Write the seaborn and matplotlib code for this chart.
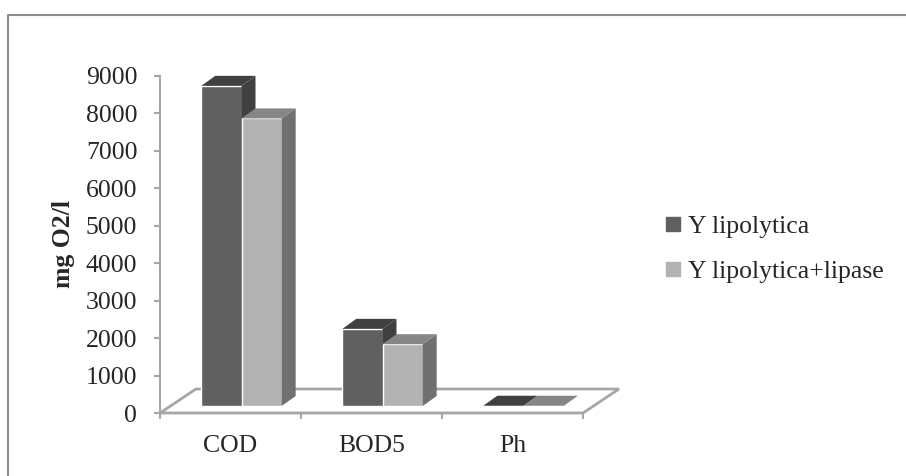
import pandas as pd
import seaborn as sns
import matplotlib.pyplot as plt
from matplotlib.patches import Polygon
from matplotlib.lines import Line2D

categories = ["COD", "BOD5", "Ph"]
series_names = ["Y lipolytica", "Y lipolytica+lipase"]
y_lipolytica = [8550, 2060, 7]
y_lipolytica_lipase = [7680, 1650, 7]
y_ticks = [0, 1000, 2000, 3000, 4000, 5000, 6000, 7000, 8000, 9000]

df = pd.DataFrame({
    "param": categories * 2,
    "value": y_lipolytica + y_lipolytica_lipase,
    "strain": [series_names[0]] * 3 + [series_names[1]] * 3,
})

front = ["#606060", "#b2b2b2"]
top = ["#404040", "#868686"]
side = ["#404040", "#707070"]
gray = "#a6a6a6"

sns.set_style("white")
plt.rcParams["font.family"] = ["Liberation Serif", "DejaVu Serif"]

fig = plt.figure(figsize=(9.06, 4.76), dpi=100)
ax = fig.add_axes([160 / 906, 1 - 413 / 476, 423 / 906, 337 / 476])

sns.barplot(data=df, x="param", y="value", hue="strain", palette=front,
            width=0.57, saturation=1, legend=False, ax=ax)
ax.set_xlim(-0.5, 2.5)
ax.set_ylim(0, 9000)

# pixel -> data conversion for the pseudo 3D depth
p0 = ax.transData.transform((0, 0))
p1 = ax.transData.transform((1, 1000))
px_x = 1 / (p1[0] - p0[0])
px_y = 1000 / (p1[1] - p0[1])

# floor
fdx, fdy = 36 * px_x, 24 * px_y
floor = Polygon([(-0.5, 0), (2.5, 0), (2.5 + fdx, fdy), (-0.5 + fdx, fdy)],
                closed=True, facecolor="white", edgecolor=gray, lw=2,
                zorder=1, clip_on=False)
ax.add_patch(floor)

# bars: shift back into the floor, add side and top faces
sx, sy = 11 * px_x, 7 * px_y
bdx, bdy = 14 * px_x, 10 * px_y
n = len(categories)
for i, bar in enumerate(ax.patches[:2 * n]):
    h = i // n
    x0, w, y1 = bar.get_x(), bar.get_width(), bar.get_height()
    x0 += sx
    bar.set_x(x0)
    bar.set_y(sy)
    bar.set_zorder(3 + h)
    bar.set_clip_on(False)
    x1 = x0 + w
    yt = sy + y1
    ax.add_patch(Polygon([(x1, sy), (x1 + bdx, sy + bdy), (x1 + bdx, yt + bdy), (x1, yt)],
                         closed=True, facecolor=side[h], lw=0, zorder=3.1 + h, clip_on=False))
    ax.add_patch(Polygon([(x0, yt), (x1, yt), (x1 + bdx, yt + bdy), (x0 + bdx, yt + bdy)],
                         closed=True, facecolor=top[h], lw=0, zorder=3.2 + h, clip_on=False))

# axes styling
sns.despine(ax=ax, top=True, right=True)
for s in ["left", "bottom"]:
    ax.spines[s].set_color(gray)
    ax.spines[s].set_linewidth(1.5)
ax.spines["bottom"].set_zorder(1.5)
ax.set_yticks(y_ticks)
ax.set_yticklabels([str(t) for t in y_ticks])
ax.tick_params(axis="y", direction="out", length=4.3, width=1.5, color=gray,
               left=True, pad=12, labelsize=18.5)
ax.set_xticks(range(n))
ax.set_xticklabels(categories)
ax.set_xticks([-0.5, 0.5, 1.5, 2.5], minor=True)
ax.tick_params(axis="x", which="major", length=0, pad=16, labelsize=18.5)
ax.tick_params(axis="x", which="minor", direction="out", length=4.3, width=1.5,
               color=gray, bottom=True)
ax.set_xlabel("")
ax.set_ylabel("mg O2/l", fontsize=18.5, fontweight="bold")
ax.yaxis.set_label_coords((75 - 160) / 423, 0.5)

handles = [Line2D([], [], marker="s", ls="", markersize=10, color=c) for c in front]
fig.legend(handles, series_names, loc="center left", frameon=False,
           bbox_to_anchor=(665 / 906, 1 - 249 / 476), fontsize=18.5,
           handlelength=0.6, handletextpad=0.3, labelspacing=0.85,
           borderpad=0, borderaxespad=0)

# chart border (only top and left visible in the crop)
fig.add_artist(Line2D([8 / 906, 8 / 906, 1], [0, 1 - 15 / 476, 1 - 15 / 476],
                      color="#8c8c8c", lw=1.5))

fig.savefig("out.png", dpi=100)
